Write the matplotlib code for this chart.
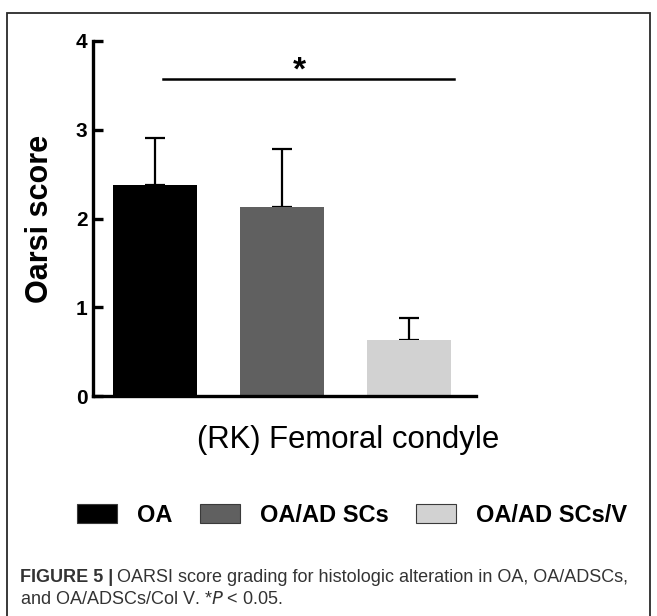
import matplotlib
matplotlib.use("Agg")
import matplotlib.pyplot as plt
from matplotlib.patches import Patch, Rectangle

groups = ["OA", "OA/ADSCs", "OA/ADSCs/V"]
legend_labels = ["OA", "OA/AD SCs", "OA/AD SCs/V"]
means = [2.38, 2.13, 0.63]
errors = [0.53, 0.65, 0.25]
colors = ["#000000", "#606060", "#d2d2d2"]
yticks = [0, 1, 2, 3, 4]

plt.rcParams['font.family'] = ['Liberation Sans', 'DejaVu Sans']

fig = plt.figure(figsize=(6.57, 6.16), dpi=100)
W, H = 657, 616

# outer frame
fig.patches.append(Rectangle((7 / W, -0.05), (650 - 7) / W, 1.05 - 13 / H,
                             transform=fig.transFigure, fill=False,
                             edgecolor="#2a2a2a", linewidth=1.3))

ax = fig.add_axes([93 / W, 1 - 396 / H, (476 - 93) / W, (396 - 41) / H])
x = list(range(len(groups)))
bars = ax.bar(x, means, width=0.66, color=colors, edgecolor="none", zorder=2)
ax.errorbar(x, means, yerr=[[0] * len(errors), errors], fmt="none",
            ecolor="black", elinewidth=1.6, capsize=7, capthick=1.6, zorder=1)

ax.set_xlim(-0.49, 2.53)
ax.set_ylim(0, 4)
ax.set_yticks(yticks)
ax.set_yticklabels([str(t) for t in yticks], fontsize=15, fontweight="bold")
ax.set_xticks([])
for s in ["top", "right"]:
    ax.spines[s].set_visible(False)
for s in ["left", "bottom"]:
    ax.spines[s].set_linewidth(2.4)
ax.tick_params(axis="y", direction="in", length=7, width=2.4, pad=4)
ax.set_ylabel("Oarsi score", fontsize=22, fontweight="bold")
ax.yaxis.set_label_coords(-0.10, 0.5)

# significance bar
ax.plot([0.06, 2.36], [3.57, 3.57], color="black", lw=1.8, clip_on=False)
ax.text(1.14, 3.56, "*", ha="center", va="baseline", fontsize=24,
        fontweight="bold", clip_on=False)

fig.text(348 / W, 1 - 440 / H, "(RK) Femoral condyle", ha="center", va="center",
         fontsize=22.4)

handles = [Patch(facecolor=c, edgecolor="#3a3a3a", linewidth=0.8) for c in colors]
fig.legend(handles, legend_labels, loc="center left", bbox_to_anchor=(77 / W, 1 - 515 / H),
           ncol=3, frameon=False, prop={"size": 17, "weight": "bold"},
           borderpad=0, borderaxespad=0,
           handlelength=1.7, handleheight=0.85, columnspacing=1.15, handletextpad=0.85)

t1 = fig.text(20 / W, 1 - 577 / H, "FIGURE 5 |", ha="left", va="center",
              fontsize=13, fontweight="bold", color="#333333")
fig.canvas.draw()
bb = t1.get_window_extent()
fig.text((bb.x1 + 4) / W, 1 - 577 / H,
         "OARSI score grading for histologic alteration in OA, OA/ADSCs,",
         ha="left", va="center", fontsize=13, color="#333333")
fig.text(20 / W, 1 - 599 / H, "and OA/ADSCs/Col V. *$P$ < 0.05.", ha="left",
         va="center", fontsize=13, color="#333333")

fig.savefig("out.png", dpi=100)
